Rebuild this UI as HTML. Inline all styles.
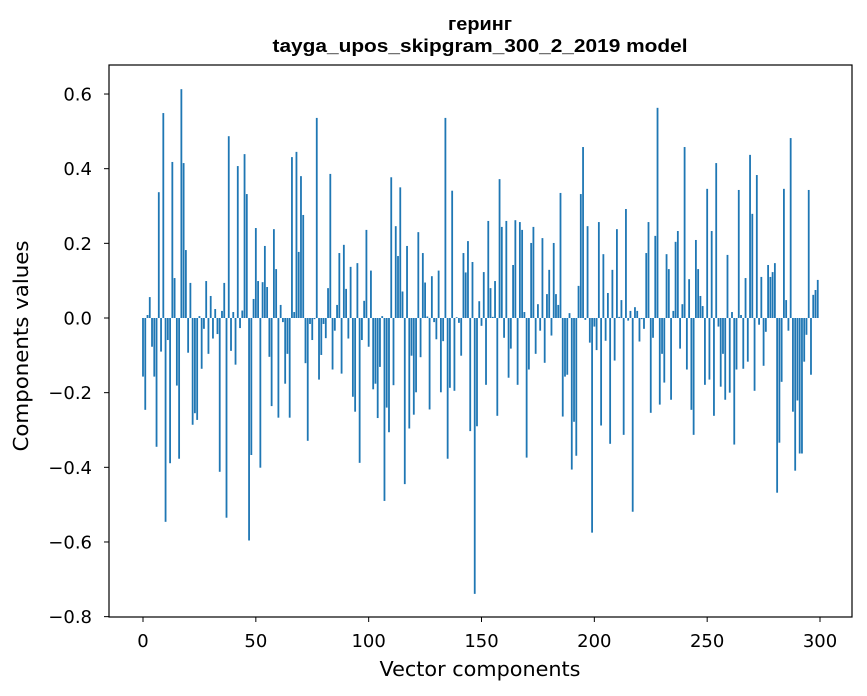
<!DOCTYPE html>
<html><head><meta charset="utf-8"><style>
html,body{margin:0;padding:0;background:#fff;}
svg{display:block;font-family:"DejaVu Sans","Liberation Sans",sans-serif;}
.title{font-family:"Liberation Sans","DejaVu Sans",sans-serif;font-weight:bold;}
</style></head><body>
<svg id="chart" width="867" height="696" viewBox="0 0 867 696">
<text class="title" x="480" y="30" text-anchor="middle" font-size="18" textLength="64" lengthAdjust="spacingAndGlyphs">геринг</text>
<text class="title" x="480" y="52" text-anchor="middle" font-size="18" textLength="415" lengthAdjust="spacingAndGlyphs">tayga_upos_skipgram_300_2_2019 model</text>
<g id="bars"></g>
<rect x="109" y="65" width="743" height="552" fill="none" stroke="#000" stroke-width="1.2"/>
<g id="xticks"></g>
<g id="yticks"></g>
<text x="480" y="676" text-anchor="middle" font-size="20.5" textLength="201" lengthAdjust="spacingAndGlyphs">Vector components</text>
<text x="0" y="0" transform="translate(28,346) rotate(-90)" text-anchor="middle" font-size="20.5" textLength="211" lengthAdjust="spacingAndGlyphs">Components values</text>
</svg>
<script>
const values = [
-0.157,-0.246,0.008,0.056,-0.077,-0.157,-0.345,0.337,-0.09,0.549,
-0.546,-0.059,-0.389,0.418,0.107,-0.181,-0.377,0.613,0.415,0.182,
-0.093,0.094,-0.286,-0.255,-0.273,0.005,-0.136,-0.029,0.099,-0.096,
0.059,-0.055,0.024,-0.043,-0.412,0.019,0.094,-0.535,0.487,-0.088,
0.016,-0.125,0.407,-0.027,0.02,0.439,0.332,-0.596,-0.367,0.051,
0.241,0.099,-0.401,0.096,0.193,0.083,-0.104,-0.236,0.238,0.131,
-0.267,0.035,-0.011,-0.176,-0.096,-0.267,0.431,0.016,0.445,0.177,
0.380,0.276,-0.121,-0.329,-0.016,-0.059,-0.003,0.536,-0.165,-0.099,
-0.016,-0.054,0.080,0.386,-0.138,-0.034,0.035,0.174,-0.149,0.196,
0.078,-0.055,0.137,-0.211,-0.251,0.147,-0.388,-0.059,0.046,0.236,
-0.077,0.127,-0.191,-0.176,-0.268,-0.131,0.005,-0.490,-0.240,-0.306,
0.377,-0.180,0.246,0.166,0.350,0.071,-0.445,0.193,-0.296,-0.101,
-0.259,-0.199,0.230,-0.105,0.174,0.095,0.004,-0.245,0.112,-0.011,
-0.057,0.127,-0.199,-0.062,0.536,-0.377,-0.187,0.341,-0.195,0.002,
-0.013,-0.101,0.174,0.122,0.206,-0.303,0.150,-0.739,-0.290,0.045,
-0.021,0.123,-0.179,0.260,0.080,0.003,0.099,-0.262,0.372,0.244,
-0.053,0.260,-0.160,-0.082,0.142,0.262,-0.179,0.257,0.236,0.016,
-0.374,-0.138,0.201,0.244,-0.096,0.037,-0.034,0.214,-0.120,0.064,
0.129,-0.047,0.201,0.064,0.035,0.335,-0.264,-0.157,-0.152,0.013,
-0.406,-0.278,-0.369,0.086,0.332,0.458,-0.005,0.246,-0.066,-0.575,
-0.023,-0.086,0.257,-0.288,0.171,-0.061,0.067,-0.337,0.129,-0.114,
0.238,0.003,0.048,-0.313,0.292,-0.007,0.019,-0.519,0.029,0.019,
-0.063,-0.003,-0.029,0.174,0.257,-0.254,-0.053,0.220,0.563,-0.232,
-0.096,-0.173,0.171,0.131,-0.219,0.019,0.204,0.233,-0.082,0.037,
0.458,-0.138,0.104,-0.246,-0.313,0.209,0.131,0.059,0.032,-0.179,
0.346,-0.165,0.233,-0.262,0.415,-0.023,-0.184,-0.096,-0.219,0.169,
-0.200,0.016,-0.339,-0.138,0.343,0.008,-0.136,0.107,-0.117,0.437,
0.279,-0.195,0.383,-0.018,0.110,-0.128,-0.037,0.142,0.110,0.123,
0.147,-0.468,-0.334,-0.171,0.346,0.048,-0.034,0.482,-0.251,-0.409,
-0.221,-0.363,-0.363,-0.117,-0.045,0.343,-0.152,0.062,0.075,0.102
];
const xTicks = [0,50,100,150,200,250,300];
const yTicks = [-0.8,-0.6,-0.4,-0.2,0.0,0.2,0.4,0.6];
const yTickLabels = ["\u22120.8","\u22120.6","\u22120.4","\u22120.2","0.0","0.2","0.4","0.6"];

const NS="http://www.w3.org/2000/svg";
function xScale(v){return 143+(v)*2.2567;}
function yScale(v){return 318-(v)*373.3;}
const barsG=document.getElementById('bars');
values.forEach((v,i)=>{
  const r=document.createElementNS(NS,'rect');
  const x0=xScale(i-0.4), x1=xScale(i+0.4);
  const y0=yScale(Math.max(v,0)), y1=yScale(Math.min(v,0));
  r.setAttribute('x',x0);r.setAttribute('width',x1-x0);
  r.setAttribute('y',y0);r.setAttribute('height',Math.max(y1-y0,0.01));
  r.setAttribute('fill','#1f77b4');
  
  
  barsG.appendChild(r);
});
const xg=document.getElementById('xticks');
xTicks.forEach(t=>{
  const x=xScale(t);
  const l=document.createElementNS(NS,'line');
  l.setAttribute('x1',x);l.setAttribute('x2',x);l.setAttribute('y1',617);l.setAttribute('y2',622);
  l.setAttribute('stroke','#000');
  
  
  xg.appendChild(l);
  const tx=document.createElementNS(NS,'text');
  tx.setAttribute('x',x);tx.setAttribute('y',647);tx.setAttribute('text-anchor','middle');tx.setAttribute('font-size','18');
  tx.textContent=t;
  
  
  xg.appendChild(tx);
});
const yg=document.getElementById('yticks');
yTicks.forEach((t,i)=>{
  const y=yScale(t);
  const l=document.createElementNS(NS,'line');
  l.setAttribute('x1',104);l.setAttribute('x2',109);l.setAttribute('y1',y);l.setAttribute('y2',y);
  l.setAttribute('stroke','#000');
  
  
  yg.appendChild(l);
  const tx=document.createElementNS(NS,'text');
  tx.setAttribute('x',92);tx.setAttribute('y',y+6.5);tx.setAttribute('text-anchor','end');tx.setAttribute('font-size','18');
  tx.textContent=yTickLabels[i];
  
  
  yg.appendChild(tx);
});
</script>
</body></html>
